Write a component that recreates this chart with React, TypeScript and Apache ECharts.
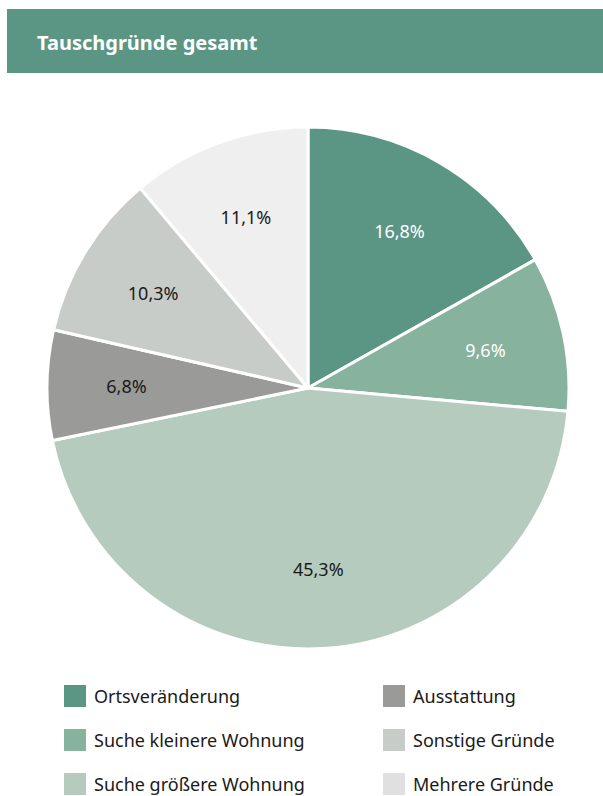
import React, { useEffect, useRef } from "react";
import * as echarts from "echarts";

const TITLE = "Tauschgründe gesamt";
const categories = [
  "Ortsveränderung",
  "Suche kleinere Wohnung",
  "Suche größere Wohnung",
  "Ausstattung",
  "Sonstige Gründe",
  "Mehrere Gründe",
];
const values = [16.8, 9.6, 45.3, 6.8, 10.3, 11.1];

const COLORS = ["#5b9584", "#87b29e", "#b5cbbe", "#9a9b98", "#c8ccc8", "#eeefee"];
const LEGEND_COLORS = ["#5b9584", "#87b29e", "#b5cbbe", "#9a9b98", "#c8ccc8", "#dfe0df"];
const LABEL_COLORS = ["#ffffff", "#ffffff", "#1a1a1a", "#1a1a1a", "#1a1a1a", "#1a1a1a"];
const FONT = "'Noto Sans', sans-serif";

export default function App() {
  const ref = useRef<HTMLDivElement>(null);
  useEffect(() => {
    document.body.style.margin = "0";
    const chart = echarts.init(ref.current!, undefined, { renderer: "svg" });
    const fmt = (v: number) => v.toFixed(1).replace(".", ",") + "%";
    const legendItems = categories.map((name, i) => ({ name, itemStyle: { color: LEGEND_COLORS[i] } }));
    const legendBase = {
      orient: "vertical",
      top: 678,
      height: 130,
      itemWidth: 24,
      itemHeight: 24,
      itemGap: 18,
      icon: "rect",
      selectedMode: false,
      textStyle: { fontSize: 18, color: "#1a1a1a", fontFamily: FONT, padding: [0, 0, 0, 2] },
    };
    chart.setOption({
      animation: false,
      graphic: [
        { type: "rect", shape: { x: 7, y: 9, width: 596, height: 64 }, style: { fill: "#5b9584" }, silent: true },
        {
          type: "text",
          x: 37,
          y: 42,
          style: { text: TITLE, fill: "#ffffff", font: `bold 20px ${FONT}`, textVerticalAlign: "middle" },
        },
      ],
      legend: [
        { ...legendBase, data: legendItems.slice(0, 3), left: 57 },
        { ...legendBase, data: legendItems.slice(3), left: 376 },
      ],
      series: [
        {
          type: "pie",
          center: [308, 388],
          radius: [0, 261],
          startAngle: 90,
          clockwise: true,
          label: { show: false },
          labelLine: { show: false },
          emphasis: { disabled: true },
          data: categories.map((name, i) => ({
            name,
            value: values[i],
            itemStyle: { color: COLORS[i], borderColor: "#ffffff", borderWidth: 3 },
          })),
        },
        {
          type: "pie",
          center: [308, 388],
          radius: [96, 261],
          startAngle: 90,
          clockwise: true,
          silent: true,
          legendHoverLink: false,
          emphasis: { disabled: true },
          labelLine: { show: false },
          label: {
            show: true,
            position: "inside",
            fontSize: 18,
            fontFamily: FONT,
            formatter: (p: any) => fmt(p.value),
          },
          data: categories.map((name, i) => ({
            name: "_" + i,
            value: values[i],
            itemStyle: { color: "rgba(0,0,0,0)" },
            label: { color: LABEL_COLORS[i] },
          })),
        },
      ],
    });
    return () => chart.dispose();
  }, []);
  return <div ref={ref} style={{ width: 603, height: 796 }} />;
}
